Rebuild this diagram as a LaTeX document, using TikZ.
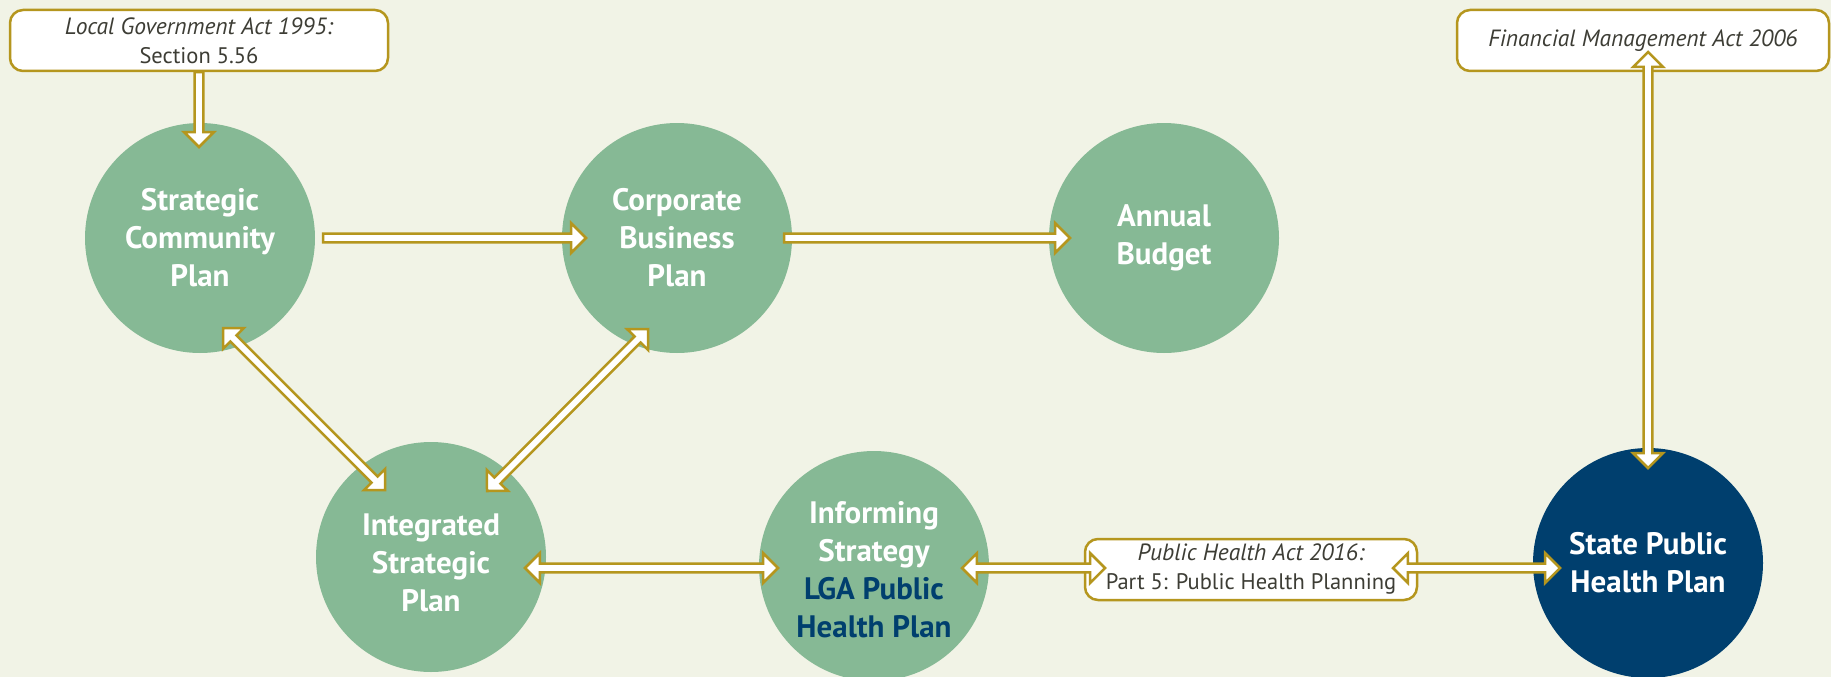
\documentclass[tikz,border=0pt]{standalone}
\usepackage{fontspec}
\setmainfont{PT Sans}
\usetikzlibrary{calc}
\definecolor{bg}{HTML}{F1F3E6}
\definecolor{circgreen}{HTML}{86B995}
\definecolor{navy}{HTML}{003F6E}
\definecolor{gold}{HTML}{B5961E}
\definecolor{txtgray}{HTML}{3D3D35}
\newcommand\actit[1]{{\itshape\fontsize{23.5}{29}\selectfont #1}}
\newcommand\arrowsingle[2]{%
  \coordinate (tmpHB) at ($(#2)!14.8pt!(#1)$);
  \draw[blockarrow] ($(#1)!4.3pt!90:(#2)$) -- ($(tmpHB)!4.3pt!-90:(#1)$) -- ($(tmpHB)!14.8pt!-90:(#1)$) -- (#2)
    -- ($(tmpHB)!14.8pt!90:(#1)$) -- ($(tmpHB)!4.3pt!90:(#1)$) -- ($(#1)!4.3pt!-90:(#2)$) -- cycle;}
\newcommand\arrowdouble[2]{%
  \coordinate (tmpHA) at ($(#1)!14.8pt!(#2)$);
  \coordinate (tmpHB) at ($(#2)!14.8pt!(#1)$);
  \draw[blockarrow] (#1) -- ($(tmpHA)!14.8pt!90:(#2)$) -- ($(tmpHA)!4.3pt!90:(#2)$) -- ($(tmpHB)!4.3pt!-90:(#1)$) -- ($(tmpHB)!14.8pt!-90:(#1)$) -- (#2)
    -- ($(tmpHB)!14.8pt!90:(#1)$) -- ($(tmpHB)!4.3pt!90:(#1)$) -- ($(tmpHA)!4.3pt!-90:(#2)$) -- ($(tmpHA)!14.8pt!-90:(#2)$) -- cycle;}
\begin{document}
\begin{tikzpicture}[x=1pt,y=-1pt,
  ctext/.style={align=center,text=white,inner sep=0pt,font=\bfseries\fontsize{31}{38}\selectfont},
  circ/.style={circle,fill=circgreen,minimum size=230pt,inner sep=0pt,ctext},
  navycirc/.style={circ,fill=navy},
  actbox/.style={draw=gold,fill=white,line width=2.5pt,rounded corners=13pt,minimum height=61pt,
    inner sep=0pt,align=center,text=txtgray,font=\fontsize{22.5}{29}\selectfont},
  blockarrow/.style={draw=gold,fill=white,line width=2.5pt,line join=miter}]
\useasboundingbox (0,0) rectangle (1831,677);
\fill[bg] (0,0) rectangle (1831,677);
% circles
\node[circ] (scp) at (200,238) {Strategic\\Community\\Plan};
\node[circ] (cbp) at (677,238) {Corporate\\Business\\Plan};
\node[circ] (ab) at (1164,238) {Annual\\Budget};
\node[circ,label={[ctext,yshift=-6pt]center:{Integrated\\Strategic\\Plan}}] (isp) at (431,557) {};
\node[circ,label={[ctext,yshift=-4pt]center:{Informing\\Strategy\\\textcolor{navy}{LGA Public}\\\textcolor{navy}{Health Plan}}}] (is) at (874,566) {};
\node[navycirc] (sphp) at (1648,563) {State Public\\Health Plan};
% boxes
\node[actbox,minimum width=378pt] (lga) at (199,40.5) {\actit{Local Government Act 1995:}\\Section 5.56};
\node[actbox,minimum width=372pt] (fma) at (1643,40.5) {\actit{Financial Management Act 2006}};
\node[actbox,minimum width=332pt] (pha) at (1251,569.5) {\actit{Public Health Act 2016:}\\Part 5: Public Health Planning};
% connector end points
\coordinate (lgaS) at (lga.south);
\coordinate (scpT) at ($(scp)+(-1,-91)$);
\coordinate (scpE) at ($(scp)+(123,0)$);
\coordinate (cbpW) at ($(cbp)+(-91,0)$);
\coordinate (cbpE) at ($(cbp)+(107,0)$);
\coordinate (abW) at ($(ab)+(-94,0)$);
\coordinate (scpSE) at ($(scp)+(23,90)$);
\coordinate (ispNW) at ($(isp)+(-46,-67)$);
\coordinate (cbpSW) at ($(cbp)+(-29,91)$);
\coordinate (ispNE) at ($(isp)+(56,-66)$);
\coordinate (ispE) at ($(isp)+(94,11)$);
\coordinate (isW) at ($(is)+(-96,2)$);
\coordinate (isE) at ($(is)+(88,2)$);
\coordinate (phaW) at ($(pha)+(-146,-1.5)$);
\coordinate (phaE) at ($(pha)+(142,-1.5)$);
\coordinate (sphpW) at ($(sphp)+(-88,5)$);
\coordinate (fmaS) at ($(fma)+(5,11.5)$);
\coordinate (sphpN) at ($(sphp)+(0,-95)$);
% connectors
\arrowsingle{lgaS}{scpT}
\arrowsingle{scpE}{cbpW}
\arrowsingle{cbpE}{abW}
\arrowdouble{scpSE}{ispNW}
\arrowdouble{cbpSW}{ispNE}
\arrowdouble{ispE}{isW}
\arrowdouble{isE}{phaW}
\arrowdouble{phaE}{sphpW}
\arrowdouble{fmaS}{sphpN}
\end{tikzpicture}
\end{document}
